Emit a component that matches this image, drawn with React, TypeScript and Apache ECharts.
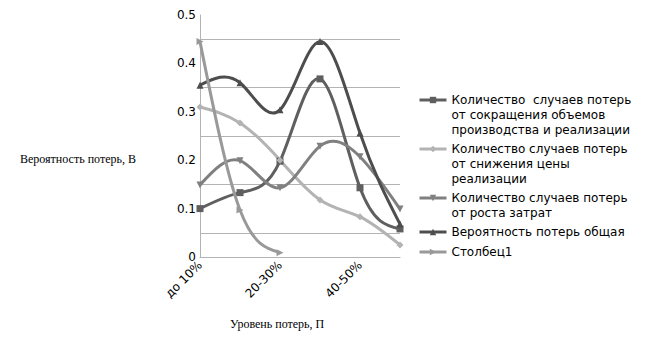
import React, { useEffect, useRef } from "react";
import * as echarts from "echarts";

const categories = ["до 10%", "10-20%", "20-30%", "30-40%", "40-50%", "более 50%"];
const seriesNames = [
  "Количество  случаев потерь от сокращения объемов производства и реализации",
  "Количество случаев потерь от снижения цены реализации",
  "Количество случаев потерь от роста затрат",
  "Вероятность потерь общая",
  "Столбец1",
];
const legendLines = [
  ["Количество  случаев потерь", "от сокращения объемов", "производства и реализации"],
  ["Количество случаев потерь", "от снижения цены", "реализации"],
  ["Количество случаев потерь", "от роста затрат"],
  ["Вероятность потерь общая"],
  ["Столбец1"],
];
const reductionVolume = [0.1, 0.133, 0.198, 0.368, 0.143, 0.058];
const priceDecline = [0.31, 0.277, 0.2, 0.118, 0.083, 0.025];
const costGrowth = [0.149, 0.199, 0.143, 0.229, 0.207, 0.099];
const totalProbability = [0.355, 0.36, 0.304, 0.445, 0.256, 0.068];
const column1 = [0.445, 0.097, 0.009];
const yTicks = [0, 0.1, 0.2, 0.3, 0.4, 0.5];

const colors = ["#5f5f5f", "#b3b3b3", "#808080", "#4d4d4d", "#999999"];
const symbols = ["rect", "diamond", "triangle", "triangle", "triangle"];
const symbolRotates = [0, 0, 180, 0, -90];
const legendFirstLineY = [100, 149, 198, 232, 252];

// natural cubic spline through pixel points -> SVG path data
function splinePath(pts: number[][]): string {
  const n = pts.length;
  if (n < 2) return "";
  if (n === 2) return `M${pts[0][0]},${pts[0][1]}L${pts[1][0]},${pts[1][1]}`;
  const h = pts[1][0] - pts[0][0];
  const M = new Array(n).fill(0);
  // solve tridiagonal for interior second derivatives
  const m = n - 2;
  const a = new Array(m).fill(1);
  const b = new Array(m).fill(4);
  const c = new Array(m).fill(1);
  const d = new Array(m);
  for (let i = 1; i <= m; i++) {
    d[i - 1] = (6 * (pts[i - 1][1] - 2 * pts[i][1] + pts[i + 1][1])) / (h * h);
  }
  for (let i = 1; i < m; i++) {
    const w = a[i] / b[i - 1];
    b[i] -= w * c[i - 1];
    d[i] -= w * d[i - 1];
  }
  const x = new Array(m);
  x[m - 1] = d[m - 1] / b[m - 1];
  for (let i = m - 2; i >= 0; i--) x[i] = (d[i] - c[i] * x[i + 1]) / b[i];
  for (let i = 0; i < m; i++) M[i + 1] = x[i];
  let path = `M${pts[0][0]},${pts[0][1]}`;
  for (let i = 0; i < n - 1; i++) {
    const [x0, y0] = pts[i];
    const [x1, y1] = pts[i + 1];
    const hh = x1 - x0;
    const s = (y1 - y0) / hh;
    const d0 = s - (hh * (2 * M[i] + M[i + 1])) / 6;
    const d1 = s + (hh * (M[i] + 2 * M[i + 1])) / 6;
    path += `C${x0 + hh / 3},${y0 + (d0 * hh) / 3} ${x1 - hh / 3},${y1 - (d1 * hh) / 3} ${x1},${y1}`;
  }
  return path;
}

export default function App() {
  const ref = useRef<HTMLDivElement>(null);
  useEffect(() => {
    document.body.style.margin = "0";
    if (!ref.current) return;
    const chart = echarts.init(ref.current, undefined, { renderer: "svg" });
    const data = [reductionVolume, priceDecline, costGrowth, totalProbability, column1];
    const font = "DejaVu Sans";
    const lineSeries = data.map((d, i) => ({
      name: seriesNames[i],
      type: "line",
      data: d,
      z: 3,
      symbol: symbols[i],
      symbolRotate: symbolRotates[i],
      symbolSize: 7,
      showSymbol: true,
      itemStyle: { color: colors[i] },
      lineStyle: { color: colors[i], width: 3, opacity: 0 },
    }));
    const curveSeries = data.map((d, i) => ({
      type: "custom",
      z: 2 + i * 0.01,
      silent: true,
      data: d.map((v, k) => [k, v]),
      encode: { x: 0, y: 1 },
      renderItem: (params: any, api: any) => {
        if (params.dataIndex !== 0) return null;
        const pts = d.map((v, k) => api.coord([k, v]));
        return {
          type: "path",
          shape: { pathData: splinePath(pts) },
          style: { fill: "none", stroke: colors[i], lineWidth: 3 },
        };
      },
    }));
    const legends = seriesNames.map((name, i) => {
      const n = legendLines[i].length;
      const blank = new Array(n - 1).fill(" ").join("\n");
      const text = (n > 1 ? blank + "\n" : "") + legendLines[i].join("\n");
      return {
        orient: "vertical",
        left: 418,
        top: legendFirstLineY[i] - ((2 * n - 1) * 15) / 2,
        itemWidth: 27,
        itemHeight: 8,
        itemGap: 0,
        padding: 0,
        data: [{ name, lineStyle: { color: colors[i], width: 3, opacity: 1 } }],
        formatter: () => text,
        textStyle: {
          fontFamily: font,
          fontSize: 12,
          color: "#000",
          lineHeight: 15,
        },
      };
    });
    chart.setOption({
      animation: false,
      textStyle: { fontFamily: font },
      grid: { left: 200, top: 15, width: 200, height: 242, containLabel: false },
      legend: legends,
      xAxis: {
        type: "category",
        data: categories,
        boundaryGap: false,
        axisLine: { lineStyle: { color: "#b3b3b3", width: 1 } },
        axisTick: { show: false },
        axisLabel: {
          interval: 1,
          rotate: 45,
          color: "#000",
          fontFamily: font,
          fontSize: 12,
          margin: 6,
        },
        splitLine: { show: false },
      },
      yAxis: {
        type: "value",
        min: yTicks[0],
        max: yTicks[yTicks.length - 1],
        interval: 0.1,
        axisLine: { show: true, lineStyle: { color: "#b3b3b3", width: 1 } },
        axisTick: { show: false },
        axisLabel: { color: "#000", fontFamily: font, fontSize: 12, margin: 4 },
        splitLine: { show: false },
        minorTick: { show: false, splitNumber: 2 },
        minorSplitLine: { show: true, lineStyle: { color: "#b3b3b3", width: 1 } },
      },
      graphic: [
        {
          type: "text",
          left: 20,
          top: 153,
          style: {
            text: "Вероятность потерь, В",
            fontFamily: "Liberation Serif",
            fontSize: 12,
            fill: "#000",
          },
        },
        {
          type: "text",
          left: 230,
          top: 318,
          style: {
            text: "Уровень потерь, П",
            fontFamily: "Liberation Serif",
            fontSize: 12,
            fill: "#000",
          },
        },
      ],
      series: [...lineSeries, ...curveSeries],
    });
    return () => chart.dispose();
  }, []);
  return <div ref={ref} style={{ width: 660, height: 352 }} />;
}
